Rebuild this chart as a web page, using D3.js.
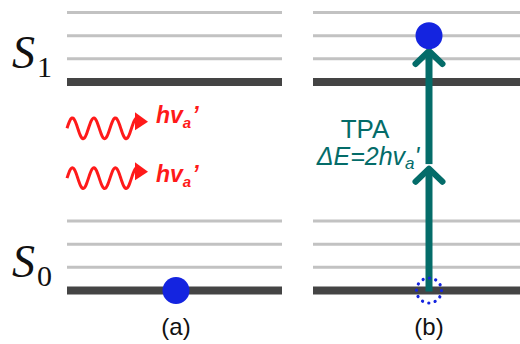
<!DOCTYPE html>
<html>
<head>
<meta charset="utf-8">
<script src="https://cdn.jsdelivr.net/npm/d3@7"></script>
<style>
  html, body { margin: 0; padding: 0; background: #fff; }
  svg { display: block; }
</style>
</head>
<body>
<svg id="chart" width="520" height="344"></svg>
<script>
// Energy levels (in vibrational-spacing units above the S0 ground level)
const s0Levels = [0, 1, 2, 3];
const s1Levels = [9, 10, 11, 12];
const stateNames = ["S", "S"];
const stateSubs = ["1", "0"];
const stateEnergy = [9, 0];
const panelLabels = ["(a)", "(b)"];

// Incoming photons in panel (a), each with energy hv_a'
const photonEnergy = [7.0, 4.85];
const photonLabel = ["hv", "hv"];

// Two-photon absorption in panel (b): two stacked steps
const tpaSteps = [[0, 5.3], [5.5, 10.38]];
const electronA = 0;       // electron resting in S0 (panel a)
const electronB = 11;      // electron promoted into S1 (panel b)
const holeB = 0;           // vacated ground level (panel b)

const svg = d3.select("#chart");
const y = d3.scaleLinear().domain([0, 12]).range([290.5, 12.5]);

const panels = [
  { x0: 67, x1: 282, mark: 176 },
  { x0: 313, x1: 522, mark: 429 }
];

const grey = "#c2c2c2", dark = "#444444";
const blue = "#1424e0", teal = "#046c69", red = "#ff1a1a";
const sans = "'Liberation Sans', Arial, sans-serif";

// Level lines for both panels
panels.forEach(p => {
  const lv = s0Levels.concat(s1Levels);
  svg.append("g").selectAll("line").data(lv).join("line")
    .attr("x1", p.x0).attr("x2", p.x1)
    .attr("y1", d => y(d)).attr("y2", d => y(d))
    .attr("stroke", d => (d === 0 || d === 9) ? dark : grey)
    .attr("stroke-width", d => (d === 0 || d === 9) ? 8 : 3);
});

// State labels S1 / S0
const sl = svg.append("g").selectAll("text").data(stateEnergy).join("text")
  .attr("x", 12)
  .attr("y", d => y(d) - 14)
  .attr("font-family", "'Liberation Serif', 'DejaVu Serif', serif")
  .attr("fill", "#111");
sl.append("tspan").attr("font-style", "italic").attr("font-size", 46)
  .text((d, i) => stateNames[i]);
sl.append("tspan").attr("font-size", 30).attr("dx", 2).attr("dy", 9)
  .text((d, i) => stateSubs[i]);

// Panel captions
svg.append("g").selectAll("text").data(panelLabels).join("text")
  .attr("x", (d, i) => panels[i].mark)
  .attr("y", 335)
  .attr("text-anchor", "middle")
  .attr("font-family", sans)
  .attr("font-size", 24)
  .attr("fill", "#111")
  .text(d => d);

// Photon waves with arrowheads
const wave = d3.line().curve(d3.curveBasis);
const labelBase = [-5.5, 3.5];
photonEnergy.forEach((e, i) => {
  const c = y(e);
  const pts = d3.range(0, 69.5, 1).map(t => [67 + t, c - 10.5 * Math.sin(2 * Math.PI * t / 21.5)]);
  svg.append("path").attr("d", wave(pts))
    .attr("fill", "none").attr("stroke", red).attr("stroke-width", 3);
  svg.append("path")
    .attr("d", `M135,${c - 16}L148,${c - 6.5}L135,${c + 2}Z`)
    .attr("fill", red);
  const t = svg.append("text")
    .attr("x", 156).attr("y", c + labelBase[i])
    .attr("font-family", sans)
    .attr("font-weight", "bold").attr("font-style", "italic")
    .attr("fill", red).attr("font-size", 23);
  t.append("tspan").text(photonLabel[i]);
  t.append("tspan").attr("font-size", 15).attr("dy", 5).text("a");
  t.append("tspan").attr("dy", -5).attr("dx", 1).text("’");
});

// Electrons
svg.append("circle").attr("cx", panels[0].mark).attr("cy", y(electronA))
  .attr("r", 13.5).attr("fill", blue);

// TPA arrows
tpaSteps.forEach(([a, b]) => {
  svg.append("line")
    .attr("x1", panels[1].mark).attr("x2", panels[1].mark)
    .attr("y1", y(a) + 1).attr("y2", y(b) + 2)
    .attr("stroke", teal).attr("stroke-width", 7);
  svg.append("path")
    .attr("d", `M${panels[1].mark - 13.5},${y(b) + 14}L${panels[1].mark},${y(b) + 1}L${panels[1].mark + 13.5},${y(b) + 14}`)
    .attr("fill", "none").attr("stroke", teal).attr("stroke-width", 6)
    .attr("stroke-linecap", "round").attr("stroke-linejoin", "round");
});

svg.append("circle").attr("cx", panels[1].mark).attr("cy", y(electronB))
  .attr("r", 13.5).attr("fill", blue);
svg.append("circle").attr("cx", panels[1].mark).attr("cy", y(holeB))
  .attr("r", 12.5).attr("fill", "none").attr("stroke", blue)
  .attr("stroke-width", 3.2).attr("stroke-linecap", "round")
  .attr("stroke-dasharray", "0.1 6.45");

// TPA annotation
svg.append("text").attr("x", 365).attr("y", 138)
  .attr("text-anchor", "middle")
  .attr("font-family", sans)
  .attr("font-size", 26).attr("fill", teal).text("TPA");
const de = svg.append("text").attr("x", 368).attr("y", 165)
  .attr("text-anchor", "middle")
  .attr("font-family", sans)
  .attr("font-style", "italic")
  .attr("font-size", 25).attr("fill", teal);
de.append("tspan").text("ΔE=2hv");
de.append("tspan").attr("font-size", 17).attr("dy", 4).text("a");
de.append("tspan").attr("dy", -4).text("'");
</script>
</body>
</html>
